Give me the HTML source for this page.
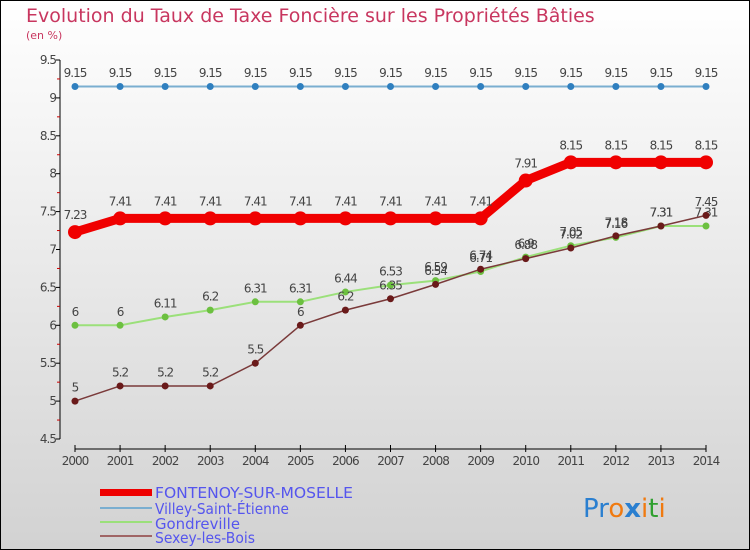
<!DOCTYPE html>
<html><head><meta charset="utf-8"><style>
body{margin:0;width:750px;height:550px;overflow:hidden}
svg{display:block;font-family:"DejaVu Sans","Liberation Sans",sans-serif}
</style></head><body>
<svg id="c" width="750" height="550" viewBox="0 0 750 550">
<defs><linearGradient id="bg" x1="0" y1="0" x2="0" y2="1"><stop offset="0" stop-color="#ffffff"/><stop offset="1" stop-color="#d2d2d2"/></linearGradient></defs>
<rect x="0.5" y="0.5" width="749" height="549" fill="url(#bg)" stroke="#000"/>
<text x="26" y="22" font-size="19" fill="#c8365f">Evolution du Taux de Taxe Foncière sur les Propriétés Bâties</text>
<text x="26" y="39" font-size="11" fill="#c8365f">(en %)</text>
<g id="axes"></g><g id="series"></g>
<g font-size="15" fill="#5555ee">
<rect x="100" y="489" width="52" height="7" fill="#e00"/>
<text x="155" y="498" textLength="198" lengthAdjust="spacingAndGlyphs">FONTENOY-SUR-MOSELLE</text>
<rect x="100" y="507" width="52" height="2" fill="#7aaed0"/>
<text x="155" y="514" textLength="134" lengthAdjust="spacingAndGlyphs">Villey-Saint-Étienne</text>
<rect x="100" y="521" width="52" height="2" fill="#9be07a"/>
<text x="155" y="529" textLength="85" lengthAdjust="spacingAndGlyphs">Gondreville</text>
<rect x="100" y="535" width="52" height="2" fill="#a06565"/>
<text x="155" y="543" textLength="100" lengthAdjust="spacingAndGlyphs">Sexey-les-Bois</text>
</g>
<text x="583" y="517" font-size="26"><tspan fill="#2a7fd0">Pr</tspan><tspan fill="#f07a10">o</tspan><tspan fill="#2a7fd0" font-weight="bold">x</tspan><tspan fill="#f07a10">i</tspan><tspan fill="#30a030">t</tspan><tspan fill="#f07a10">i</tspan></text>
</svg>
<script>
const years=[2000,2001,2002,2003,2004,2005,2006,2007,2008,2009,2010,2011,2012,2013,2014];
const yTicks=[4.5,5,5.5,6,6.5,7,7.5,8,8.5,9,9.5];
const fontenoy=[7.23,7.41,7.41,7.41,7.41,7.41,7.41,7.41,7.41,7.41,7.91,8.15,8.15,8.15,8.15];
const villey=[9.15,9.15,9.15,9.15,9.15,9.15,9.15,9.15,9.15,9.15,9.15,9.15,9.15,9.15,9.15];
const gondreville=[6,6,6.11,6.2,6.31,6.31,6.44,6.53,6.59,6.71,6.9,7.05,7.16,7.31,7.31];
const sexey=[5,5.2,5.2,5.2,5.5,6,6.2,6.35,6.54,6.74,6.88,7.02,7.18,7.31,7.45];
const NS="http://www.w3.org/2000/svg";
const xs=i=>75+i*(706-75)/(years.length-1);
const ys=v=>60+(9.5-v)*(439-60)/5;
function mk(t,a,p){const e=document.createElementNS(NS,t);for(const k in a)e.setAttribute(k,a[k]);p.appendChild(e);return e;}
const ax=document.getElementById('axes');
const yAxis=mk('line',{x1:60,y1:60,x2:60,y2:439,stroke:'#000'},ax);


yTicks.forEach((v,i)=>{
 mk('line',{x1:56,y1:ys(v),x2:60,y2:ys(v),stroke:'#000'},ax);
 if(i<yTicks.length-1)mk('line',{x1:57,y1:ys(v+0.25),x2:60,y2:ys(v+0.25),stroke:'#c00'},ax);
 const t=mk('text',{x:56,y:ys(v)+4,'font-size':12,fill:'#444','text-anchor':'end','letter-spacing':'-1'},ax);
 t.textContent=v;
 
 
});
const xAxis=mk('line',{x1:75,y1:449,x2:706,y2:449,stroke:'#000'},ax);


years.forEach((y,i)=>{
 mk('line',{x1:xs(i),y1:445,x2:xs(i),y2:452,stroke:'#000'},ax);
 const t=mk('text',{x:xs(i),y:465,'font-size':12,fill:'#444','text-anchor':'middle','letter-spacing':'-1'},ax);
 t.textContent=y;
 
 
});
const sg=document.getElementById('series');
function draw(name,data,color,dot,lw,r){
 const g=mk('g',{},sg);
 
 
 const l=mk('polyline',{points:data.map((v,i)=>xs(i)+','+ys(v)).join(' '),fill:'none',stroke:color,'stroke-width':lw,'stroke-linejoin':'round'},g);
 
 
 data.forEach((v,i)=>{
  const c=mk('circle',{cx:xs(i),cy:ys(v),r:r,fill:dot},g);
  
  
  const t=mk('text',{x:xs(i),y:ys(v)-(r+6),'font-size':12,fill:'#444','text-anchor':'middle','letter-spacing':'-1'},g);
  t.textContent=v;
  
  
 });
}
draw('villey',villey,'#7aaed0','#2f7fbf',2,3.5);
draw('gondreville',gondreville,'#9be07a','#6cc040',2,3.5);
draw('sexey',sexey,'#7a3a3a','#6a1a1a',1.5,3.5);
draw('fontenoy',fontenoy,'#f00000','#f00000',9,7);
</script>
</body></html>
